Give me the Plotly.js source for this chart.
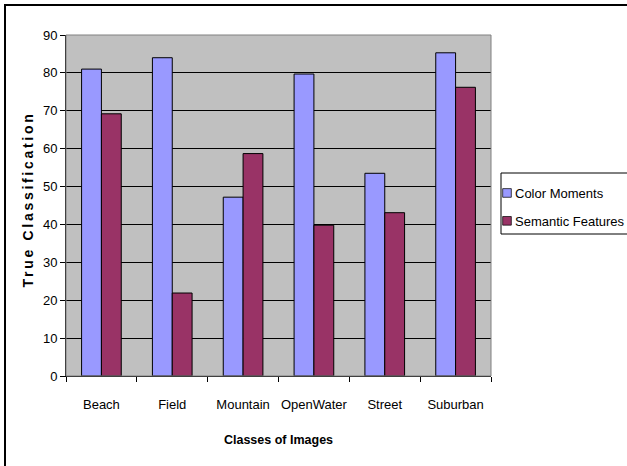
<!DOCTYPE html>
<html>
<head>
<meta charset="utf-8">
<script src="https://cdn.plot.ly/plotly-3.0.1.min.js"></script>
<style>
html,body{margin:0;padding:0;background:#fff;}
#chart{width:627px;height:466px;}
</style>
</head>
<body>
<div id="chart"></div>
<script>
const categories = ["Beach", "Field", "Mountain", "OpenWater", "Street", "Suburban"];
const colorMoments = [81.0, 84.0, 47.2, 79.7, 53.5, 85.3];
const semanticFeatures = [69.2, 21.9, 58.7, 39.8, 43.1, 76.2];
const seriesNames = ["Color Moments", "Semantic Features"];
const yTickValues = [0, 10, 20, 30, 40, 50, 60, 70, 80, 90];

const FONT = "Arial, 'Liberation Sans', sans-serif";

const L = 66, R = 491, T = 35, B = 376, W = 627, H = 466;
const pw = R - L, ph = B - T;
const px = v => (v - L) / pw;
const py = v => (B - v) / ph;

const traces = [
  {type: "bar", name: seriesNames[0], x: categories, y: colorMoments, legendgroup: "g1",
   marker: {color: "#9999FF", line: {color: "#000000", width: 1}}},
  {type: "bar", name: seriesNames[1], x: categories, y: semanticFeatures, legendgroup: "g2",
   marker: {color: "#993366", line: {color: "#000000", width: 1}}}
];

const layout = {
  width: W, height: H,
  margin: {l: L, r: W - R, t: T, b: H - B, pad: 0, autoexpand: false},
  paper_bgcolor: "#ffffff",
  plot_bgcolor: "#C0C0C0",
  barmode: "group",
  bargap: 0.44,
  bargroupgap: 0,
  font: {family: FONT, size: 13, color: "#000"},
  showlegend: true,
  legend: {
    x: px(475), xanchor: "left", y: py(178), yanchor: "top",
    borderwidth: 0, bgcolor: "rgba(0,0,0,0)",
    font: {family: FONT, size: 13, color: "#000"},
    itemwidth: 30, tracegroupgap: 8
  },
  xaxis: {
    type: "category",
    tickson: "boundaries",
    tickangle: 0,
    ticks: "outside", ticklen: 5, tickcolor: "#000", tickwidth: 1,
    ticklabelstandoff: 16,
    showline: true, linecolor: "#000", linewidth: 1,
    showgrid: false, zeroline: false,
    tickfont: {family: FONT, size: 13, color: "#000"},
    title: {text: "Classes of Images", font: {family: FONT, size: 12.5, color: "#000", weight: "bold"}, standoff: 14},
    automargin: false
  },
  yaxis: {
    range: [0, 90],
    tickvals: yTickValues,
    ticktext: yTickValues.map(String),
    ticks: "outside", ticklen: 5, tickcolor: "#000", tickwidth: 1,
    showline: true, linecolor: "#000", linewidth: 1,
    showgrid: true, gridcolor: "#000", gridwidth: 1,
    zeroline: false,
    tickfont: {family: FONT, size: 13, color: "#000"},
    title: {text: "True Classification", font: {family: FONT, size: 14, color: "#000", weight: "bold"}, standoff: 6},
    automargin: false
  },
  shapes: [
    {type: "rect", xref: "paper", yref: "paper", x0: 0, x1: 1, y0: 0, y1: 1,
     line: {color: "#808080", width: 1}, fillcolor: "rgba(0,0,0,0)", layer: "above"},
    {type: "rect", xref: "paper", yref: "paper", x0: px(5), x1: px(630), y0: py(470), y1: py(5),
     line: {color: "#000", width: 2}, fillcolor: "rgba(0,0,0,0)", layer: "below"},
    {type: "rect", xref: "paper", yref: "paper", x0: px(501), x1: px(640), y0: py(234), y1: py(173),
     line: {color: "#000", width: 1}, fillcolor: "#ffffff", layer: "above"}
  ]
};

Plotly.newPlot("chart", traces, layout, {displayModeBar: false, staticPlot: true}).then(() => {
  const yt = document.querySelector(".ytitle");
  if (yt) { yt.style.letterSpacing = "2.7px"; yt.setAttribute("dx", "6"); }
  const xt = document.querySelector(".xtitle");
  if (xt) { xt.setAttribute("dy", "10"); }
  document.querySelectorAll(".legend .legendpoints path").forEach(p => {
    p.setAttribute("transform", "translate(32,0) scale(0.72)");
  });
});
</script>
</body>
</html>
